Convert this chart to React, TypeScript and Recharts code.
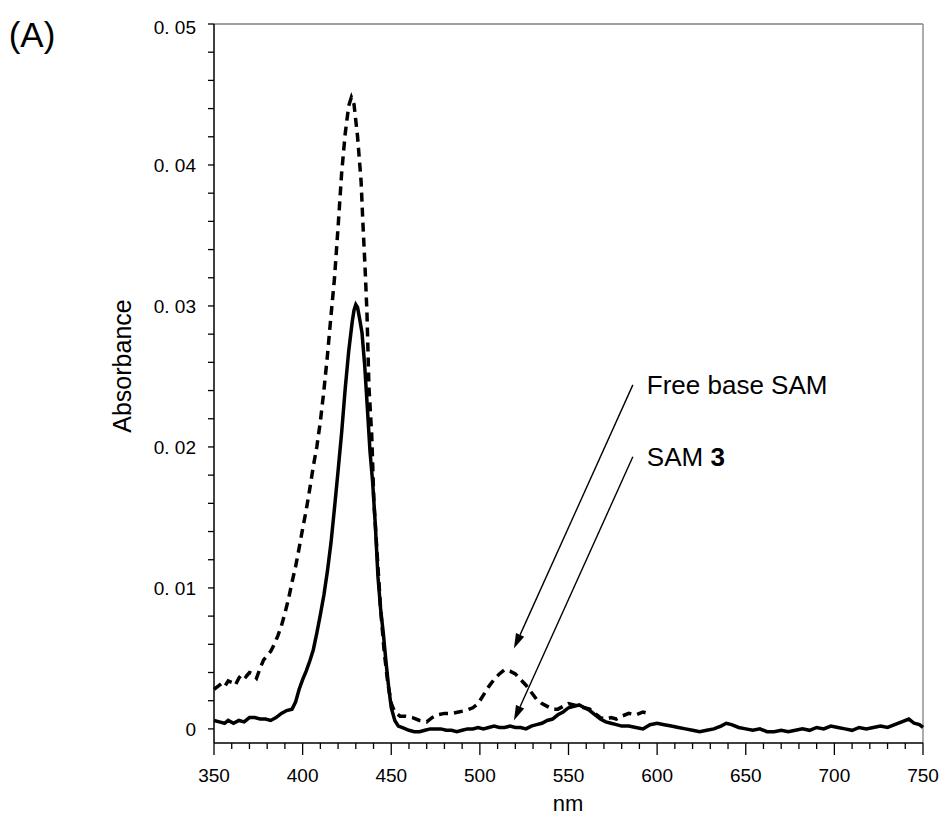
import React from 'react';
import { LineChart, Line, XAxis, YAxis, ReferenceLine } from 'recharts';

// wavelength (nm) / absorbance pairs
const samNm = [350, 353, 356, 358, 361, 364, 367, 370, 373, 376, 379, 382, 385, 388, 391, 394, 396, 398, 400, 402, 404, 406, 408, 410, 412, 414, 416, 418, 420, 422, 424, 426, 428, 429, 430, 431, 432, 433.5, 435, 436.5, 438, 439.5, 441, 442.5, 444, 445.5, 447, 448.5, 450, 452, 454, 456, 458, 460, 463, 466, 469, 472, 475, 478, 481, 484, 487, 490, 493, 496, 499, 502, 505, 508, 511, 514, 517, 520, 523, 526, 529, 532, 535, 538, 541, 544, 547, 550, 553, 556, 559, 562, 565, 568, 571, 574, 577, 580, 584, 588, 592, 596, 600, 604, 608, 612, 616, 620, 624, 628, 632, 636, 639, 642, 646, 650, 654, 658, 662, 666, 670, 674, 678, 682, 686, 690, 694, 698, 702, 706, 710, 714, 718, 722, 726, 730, 734, 738, 742, 745, 748, 750];
const samAbs = [0.0006, 0.0005, 0.0004, 0.0006, 0.0004, 0.0006, 0.0005, 0.0008, 0.0008, 0.0007, 0.0007, 0.0006, 0.0008, 0.0011, 0.0013, 0.0014, 0.0019, 0.0028, 0.0035, 0.0041, 0.0048, 0.0056, 0.0068, 0.0081, 0.0095, 0.0112, 0.0132, 0.0157, 0.0183, 0.021, 0.0241, 0.0268, 0.0289, 0.0297, 0.0301, 0.0299, 0.0292, 0.0281, 0.0258, 0.0228, 0.0197, 0.0175, 0.0145, 0.0108, 0.0085, 0.0068, 0.0048, 0.003, 0.0015, 0.0006, 0.0002, 0.0001, 0.0, -0.0001, -0.0002, -0.0002, -0.0001, 0.0, 0.0, 0.0, -0.0001, -0.0001, -0.0002, -0.0001, 0.0, 0.0, 0.0001, 0.0, 0.0001, 0.0002, 0.0001, 0.0001, 0.0002, 0.0001, 0.0001, 0.0, 0.0002, 0.0003, 0.0004, 0.0006, 0.0007, 0.001, 0.0012, 0.0015, 0.0016, 0.0017, 0.0015, 0.0013, 0.001, 0.0007, 0.0005, 0.0004, 0.0003, 0.0002, 0.0002, 0.0001, 0.0, 0.0003, 0.0004, 0.0003, 0.0002, 0.0001, 0.0, -0.0001, -0.0002, -0.0001, 0.0, 0.0002, 0.0004, 0.0003, 0.0001, 0.0, -0.0001, 0.0, -0.0002, -0.0002, -0.0001, -0.0002, -0.0001, 0.0, -0.0001, 0.0001, 0.0, 0.0002, 0.0001, 0.0, -0.0001, 0.0001, 0.0, 0.0001, 0.0002, 0.0001, 0.0003, 0.0005, 0.0007, 0.0004, 0.0003, 0.0001];

const freeNm = [350, 352, 354, 356, 358, 360, 362, 364, 366, 368, 370, 372, 374, 376, 378, 380, 382, 384, 386, 388, 390, 392, 394, 396, 398, 400, 402, 404, 406, 408, 410, 412, 414, 416, 418, 420, 422, 424, 426, 427.5, 429, 431, 433, 434, 435.2, 436.3, 437.4, 439, 440.2, 442, 444, 446, 448, 450, 452, 455, 458, 462, 466, 470, 473, 476, 480, 484, 488, 492, 496, 499, 502, 505, 508, 511, 514, 517, 520, 523, 526, 529, 532, 535, 538, 541, 544, 547, 550, 553, 556, 559, 562, 565, 568, 571, 574, 577, 580, 584, 588, 592, 595];
const freeAbs = [0.0028, 0.003, 0.0032, 0.003, 0.0034, 0.0033, 0.0031, 0.0036, 0.0039, 0.0037, 0.004, 0.0039, 0.0036, 0.0043, 0.0049, 0.0052, 0.0055, 0.006, 0.0066, 0.0073, 0.0082, 0.0092, 0.0104, 0.0115, 0.0128, 0.0142, 0.0155, 0.017, 0.0186, 0.02, 0.0218, 0.024, 0.0265, 0.0293, 0.032, 0.0356, 0.0394, 0.0422, 0.0442, 0.0448, 0.0443, 0.042, 0.0388, 0.0359, 0.0328, 0.0295, 0.0243, 0.0208, 0.0161, 0.0125, 0.0085, 0.0055, 0.0033, 0.0018, 0.0012, 0.0009, 0.0009, 0.0008, 0.0006, 0.0005, 0.0008, 0.001, 0.0011, 0.0011, 0.0012, 0.0013, 0.0015, 0.0018, 0.0024, 0.003, 0.0035, 0.0039, 0.0042, 0.0041, 0.0039, 0.0035, 0.0031, 0.0026, 0.0021, 0.0018, 0.0016, 0.0014, 0.0014, 0.0016, 0.0018, 0.0017, 0.0016, 0.0015, 0.0014, 0.0011, 0.0008, 0.0007, 0.0008, 0.0007, 0.0009, 0.0011, 0.001, 0.0012, 0.0011];

const xMajor = [350, 400, 450, 500, 550, 600, 650, 700, 750];
const yMajor = [0, 0.01, 0.02, 0.03, 0.04, 0.05];
const yTickLabels = ['0', '0. 01', '0. 02', '0. 03', '0. 04', '0. 05'];

const samData = samNm.map((nm, i) => ({ nm, abs: samAbs[i] }));
const freeData = freeNm.map((nm, i) => ({ nm, abs: freeAbs[i] }));

// minor ticks: every 10 nm, every 0.002 absorbance
const xTicks: number[] = [];
for (let v = 350; v <= 750; v += 10) xTicks.push(v);
const yTicks: number[] = [];
for (let i = 0; i <= 25; i++) yTicks.push(+(i * 0.002).toFixed(3));

const FONT = '"Liberation Sans", Arial, Helvetica, sans-serif';

const XTick = (props: any) => {
  const { x, y, payload } = props;
  const major = xMajor.includes(payload.value);
  return <g>
      <line x1={x} x2={x} y1={y} y2={y + (major ? 12 : 6)} stroke="#000" strokeWidth={1.3} />
      {major && <text x={x} y={y + 39} textAnchor="middle" fontSize={19} fontFamily={FONT} fill="#000">
          {payload.value}
        </text>}
    </g>;
};

const YTick = (props: any) => {
  const { x, y, payload } = props;
  const idx = yMajor.findIndex(v => Math.abs(v - payload.value) < 1e-6);
  return <g>
      <line x1={x - 6} x2={x} y1={y} y2={y} stroke="#000" strokeWidth={1.3} />
      {idx >= 0 && <text x={x - 18} y={y + 7 + (idx === 5 ? 3 : 0)} textAnchor="end" fontSize={19} fontFamily={FONT} fill="#000">
          {yTickLabels[idx]}
        </text>}
    </g>;
};

const arrowShape = (label: React.ReactNode) => (props: any) => {
  const { x1, y1, x2, y2 } = props;
  const ang = Math.atan2(y2 - y1, x2 - x1);
  const len = 15, half = 4.5;
  const bx = x2 - len * Math.cos(ang), by = y2 - len * Math.sin(ang);
  const px = -Math.sin(ang) * half, py = Math.cos(ang) * half;
  return <g>
      <line x1={x1} y1={y1} x2={bx} y2={by} stroke="#000" strokeWidth={1.4} />
      <polygon points={`${x2},${y2} ${bx + px},${by + py} ${bx - px},${by - py}`} fill="#000" />
      <text x={x1 + 14} y={y1 + 9} fontSize={26} fontFamily={FONT} fill="#000">{label}</text>
    </g>;
};

export default function App() {
  return <div style={{ position: 'absolute', left: 0, top: 0, width: 944, height: 819, background: '#fff' }}>
      <LineChart width={944} height={819} data={samData} margin={{ top: 24, right: 21, left: 134, bottom: 36 }}>
        <XAxis dataKey="nm" type="number" domain={[350, 750]} ticks={xTicks} interval={0} height={40} tickSize={0} tickMargin={0} tickLine={false} axisLine={{ stroke: '#000', strokeWidth: 1.5 }} tick={<XTick />} />
        <YAxis type="number" domain={[-0.001, 0.05]} ticks={yTicks} interval={0} width={80} tickSize={0} tickMargin={0} tickLine={false} axisLine={{ stroke: '#000', strokeWidth: 1.5 }} tick={<YTick />} allowDataOverflow />
        <ReferenceLine y={0.05} stroke="#808080" strokeWidth={1.3} />
        <ReferenceLine x={750} stroke="#808080" strokeWidth={1.3} />
        <Line data={freeData} dataKey="abs" type="linear" stroke="#000" strokeWidth={3.5} strokeDasharray="9 6" dot={false} isAnimationActive={false} />
        <Line data={samData} dataKey="abs" type="linear" stroke="#000" strokeWidth={3.5} dot={false} isAnimationActive={false} />
        <ReferenceLine segment={[{ x: 586.3, y: 0.0244 }, { x: 519.2, y: 0.0057 }]} shape={arrowShape('Free base SAM')} />
        <ReferenceLine segment={[{ x: 586.3, y: 0.0193 }, { x: 519.2, y: 0.0006 }]} shape={arrowShape(<>SAM <tspan fontWeight="bold">3</tspan></>)} />
      </LineChart>
      <div style={{ position: 'absolute', left: 32, top: 35, transform: 'translate(-50%, -50%)', fontFamily: FONT, fontSize: 35 }}>(A)</div>
      <div style={{ position: 'absolute', left: 122, top: 366, transform: 'translate(-50%, -50%) rotate(-90deg)', fontFamily: FONT, fontSize: 25, whiteSpace: 'nowrap' }}>Absorbance</div>
      <div style={{ position: 'absolute', left: 568, top: 804, transform: 'translate(-50%, -50%)', fontFamily: FONT, fontSize: 22 }}>nm</div>
    </div>;
}
